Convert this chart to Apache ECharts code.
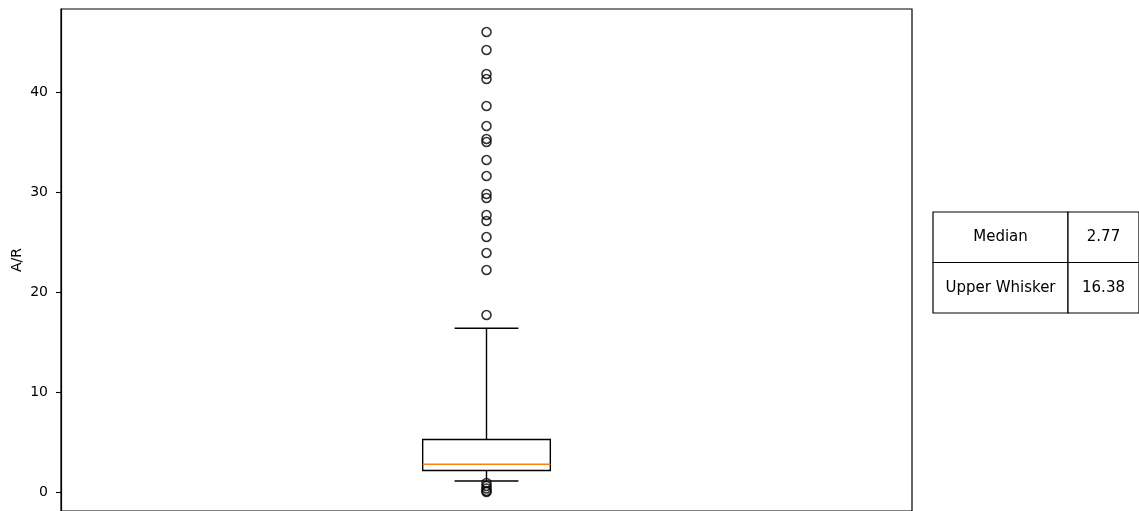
<!DOCTYPE html>
<html>
<head>
<meta charset="utf-8">
<script src="https://cdn.jsdelivr.net/npm/echarts@6/dist/echarts.min.js"></script>
<style>
html,body{margin:0;padding:0;background:#fff;}
#chart{width:1139px;height:511px;}
</style>
</head>
<body>
<div id="chart"></div>
<script>
const categories = ['A/R'];
// [lower whisker, Q1, median, Q3, upper whisker]
const boxStats = [[1.1, 2.15, 2.77, 5.25, 16.38]];
const outliers = [46.0, 44.2, 41.8, 41.3, 38.6, 36.6, 35.3, 35.0, 33.2, 31.6, 29.8, 29.4, 27.7, 27.1, 25.5, 23.9, 22.2, 17.7, 0.9, 0.6, 0.35, 0.1, 0.0];
const yTicks = [0, 10, 20, 30, 40];
const tableRows = [['Median', '2.77'], ['Upper Whisker', '16.38']];

const chart = echarts.init(document.getElementById('chart'), null, {renderer: 'canvas'});
const FONT = 'DejaVu Sans';

const tableLeft = 933, tableTop = 212, col1W = 135, col2W = 71, rowH = 50.5;
const graphics = [];
tableRows.forEach((row, i) => {
  const y = tableTop + i * rowH;
  graphics.push({type: 'rect', shape: {x: tableLeft, y: y, width: col1W, height: rowH},
    style: {fill: '#fff', stroke: '#000', lineWidth: 1.2}});
  graphics.push({type: 'rect', shape: {x: tableLeft + col1W, y: y, width: col2W, height: rowH},
    style: {fill: '#fff', stroke: '#000', lineWidth: 1.2}});
  graphics.push({type: 'text', x: tableLeft + col1W / 2, y: y + rowH / 2,
    style: {text: row[0], fill: '#000', font: '15px "' + FONT + '"', align: 'center', verticalAlign: 'middle'}});
  graphics.push({type: 'text', x: tableLeft + col1W + col2W / 2, y: y + rowH / 2,
    style: {text: row[1], fill: '#000', font: '15px "' + FONT + '"', align: 'center', verticalAlign: 'middle'}});
});

chart.setOption({
  animation: false,
  backgroundColor: '#fff',
  textStyle: {fontFamily: FONT},
  grid: {left: 61, right: 227, top: 9, bottom: 0, containLabel: false, outerBoundsMode: 'none',
    show: true, borderColor: '#000', borderWidth: 1.2, backgroundColor: 'transparent'},
  xAxis: {
    type: 'category', data: categories,
    axisLabel: {show: false}, axisTick: {show: false},
    axisLine: {show: false, onZero: false},
    splitLine: {show: false}
  },
  yAxis: {
    type: 'value', min: -1.9, max: 48.3,
    name: 'A/R', nameLocation: 'middle', nameRotate: 90, nameGap: 37, nameMoveOverlap: false,
    nameTextStyle: {color: '#000', fontSize: 14, fontFamily: FONT},
    axisLine: {show: true, lineStyle: {color: '#000', width: 1.2}},
    axisTick: {show: true, length: 5, lineStyle: {color: '#000', width: 1.1}, customValues: yTicks},
    axisLabel: {color: '#000', fontSize: 14, fontFamily: FONT, margin: 13, customValues: yTicks},
    splitLine: {show: false}
  },
  graphic: graphics,
  series: [
    {
      type: 'custom',
      data: boxStats.map((s, i) => [i].concat(s)),
      renderItem: function (params, api) {
        const xi = api.value(0);
        const bw = api.size([1, 0])[0] * 0.15;
        const cw = bw / 2;
        const pMin = api.coord([xi, api.value(1)]);
        const pQ1 = api.coord([xi, api.value(2)]);
        const pMed = api.coord([xi, api.value(3)]);
        const pQ3 = api.coord([xi, api.value(4)]);
        const pMax = api.coord([xi, api.value(5)]);
        const cx = pMed[0];
        const ls = {stroke: '#000', lineWidth: 1.4, fill: null};
        return {
          type: 'group',
          children: [
            {type: 'rect', shape: {x: cx - bw / 2, y: pQ3[1], width: bw, height: pQ1[1] - pQ3[1]}, style: {stroke: '#000', lineWidth: 1.4, fill: 'none'}},
            {type: 'line', shape: {x1: cx, y1: pQ3[1], x2: cx, y2: pMax[1]}, style: ls},
            {type: 'line', shape: {x1: cx, y1: pQ1[1], x2: cx, y2: pMin[1]}, style: ls},
            {type: 'line', shape: {x1: cx - cw / 2, y1: pMax[1], x2: cx + cw / 2, y2: pMax[1]}, style: ls},
            {type: 'line', shape: {x1: cx - cw / 2, y1: pMin[1], x2: cx + cw / 2, y2: pMin[1]}, style: ls},
            {type: 'line', shape: {x1: cx - bw / 2, y1: pMed[1], x2: cx + bw / 2, y2: pMed[1]}, style: {stroke: '#ff7f0e', lineWidth: 1.6}}
          ]
        };
      },
      z: 3
    },
    {
      type: 'scatter',
      data: outliers.map(v => [0, v]),
      symbol: 'circle', symbolSize: 9,
      itemStyle: {color: 'rgba(0,0,0,0)', borderColor: '#000', borderWidth: 1.6},
      emphasis: {disabled: true},
      z: 4
    }
  ]
});
</script>
</body>
</html>
